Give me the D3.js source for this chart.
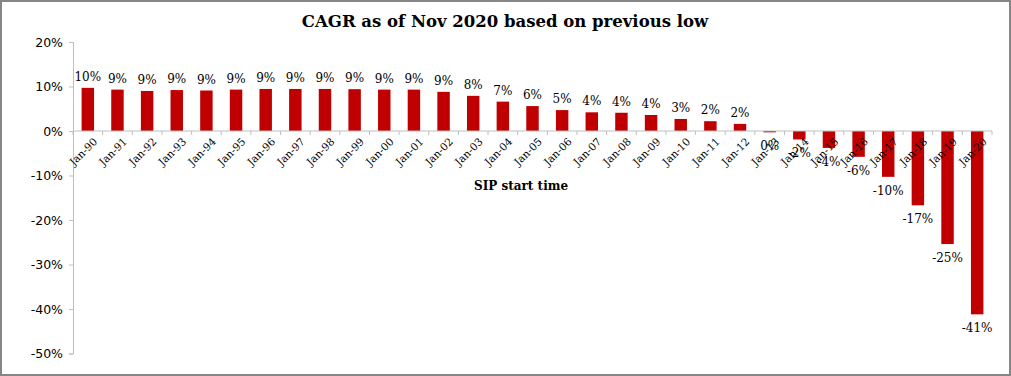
<!DOCTYPE html>
<html>
<head>
<meta charset="utf-8">
<script src="https://cdn.jsdelivr.net/npm/d3@7"></script>
<style>
  body { margin: 0; background: #fff; }
  svg text { font-family: "DejaVu Serif", serif; fill: #000; }
</style>
</head>
<body>
<svg id="chart"></svg>
<script>
const categories = ["Jan-90","Jan-91","Jan-92","Jan-93","Jan-94","Jan-95","Jan-96","Jan-97","Jan-98","Jan-99",
  "Jan-00","Jan-01","Jan-02","Jan-03","Jan-04","Jan-05","Jan-06","Jan-07","Jan-08","Jan-09",
  "Jan-10","Jan-11","Jan-12","Jan-13","Jan-14","Jan-15","Jan-16","Jan-17","Jan-18","Jan-19","Jan-20"];
const cagr = [9.7, 9.3, 9.0, 9.2, 9.1, 9.3, 9.45, 9.45, 9.45, 9.4,
  9.3, 9.3, 8.8, 7.9, 6.6, 5.6, 4.7, 4.2, 4.1, 3.6,
  2.7, 2.2, 1.6, -0.3, -1.9, -3.8, -5.8, -10.3, -16.7, -25.4, -41.2];
const yTicks = [20, 10, 0, -10, -20, -30, -40, -50];

const width = 1011, height = 376;
const margin = {left: 73, right: 19, top: 42, bottom: 24};

const svg = d3.select("#chart").attr("width", width).attr("height", height);

// outer frame
svg.append("rect")
  .attr("x", 1).attr("y", 1)
  .attr("width", width - 2).attr("height", height - 2)
  .attr("fill", "none").attr("stroke", "#868686").attr("stroke-width", 2);

const x = d3.scaleBand()
  .domain(categories)
  .range([margin.left, width - margin.right])
  .paddingInner(0.58).paddingOuter(0.29);

const y = d3.scaleLinear()
  .domain([-50, 20])
  .range([height - margin.bottom + 1.5, margin.top]);

// title
svg.append("text")
  .attr("x", 505).attr("y", 27)
  .attr("text-anchor", "middle")
  .style("font-size", "16.5px").style("font-weight", "bold")
  .text("CAGR as of Nov 2020 based on previous low");

// y axis
const yAxis = svg.append("g")
  .attr("transform", "translate(" + margin.left + ",0)")
  .call(d3.axisLeft(y).tickValues(yTicks).tickFormat(d => d + "%").tickSize(4).tickPadding(6));
yAxis.selectAll("path, line").attr("stroke", "#bfbfbf");
yAxis.selectAll("text").style("font-size", "12.5px").style("font-family", "'DejaVu Sans', sans-serif");

// bars
svg.selectAll("rect.bar")
  .data(categories)
  .enter()
  .append("rect")
  .attr("class", "bar")
  .attr("x", d => x(d))
  .attr("width", x.bandwidth())
  .attr("y", (d, i) => y(Math.max(0, cagr[i])))
  .attr("height", (d, i) => Math.abs(y(cagr[i]) - y(0)))
  .attr("fill", "#c00000");

// x axis line at zero with ticks between categories
const step = x.step();
const xg = svg.append("g").attr("transform", "translate(0," + y(0) + ")");
xg.append("line")
  .attr("x1", margin.left).attr("x2", width - margin.right)
  .attr("stroke", "#bfbfbf");
xg.selectAll("line.tk")
  .data(d3.range(categories.length + 1))
  .enter()
  .append("line")
  .attr("class", "tk")
  .attr("x1", i => margin.left + i * step).attr("x2", i => margin.left + i * step)
  .attr("y1", 0).attr("y2", 4)
  .attr("stroke", "#bfbfbf");

// category labels, rotated
xg.selectAll("text.cat")
  .data(categories)
  .enter()
  .append("text")
  .attr("class", "cat")
  .attr("transform", d => "translate(" + (x(d) + x.bandwidth() / 2 + 5) + ",6) rotate(-45)")
  .attr("text-anchor", "end")
  .attr("dy", "0.7em")
  .style("font-size", "10.5px")
  .text(d => d);

// data labels
svg.selectAll("text.val")
  .data(categories)
  .enter()
  .append("text")
  .attr("class", "val")
  .attr("x", d => x(d) + x.bandwidth() / 2)
  .attr("y", (d, i) => cagr[i] >= 0 ? y(cagr[i]) - 7 : y(cagr[i]) + 18)
  .attr("text-anchor", "middle")
  .style("font-size", "12px")
  .text((d, i) => Math.round(cagr[i]) + "%");

// axis title
svg.append("text")
  .attr("x", 521).attr("y", 190)
  .attr("text-anchor", "middle")
  .style("font-size", "12px").style("font-weight", "bold")
  .text("SIP start time");
</script>
</body>
</html>
